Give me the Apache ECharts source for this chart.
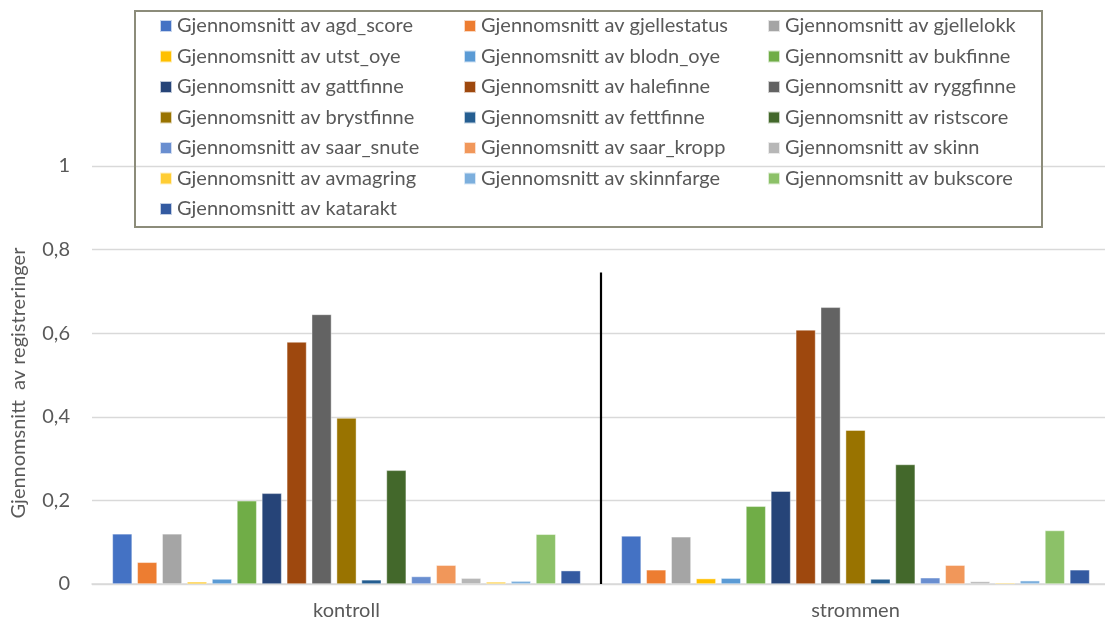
<!DOCTYPE html>
<html>
<head>
<meta charset="utf-8">
<script src="https://cdn.jsdelivr.net/npm/echarts@6/dist/echarts.min.js"></script>
<style>
html,body{margin:0;padding:0;background:#fff;}
#chart{width:1105px;height:620px;}
</style>
</head>
<body>
<div id="chart"></div>
<script>
const categories = ['kontroll', 'strommen'];
const variables = ['agd_score','gjellestatus','gjellelokk','utst_oye','blodn_oye','bukfinne','gattfinne','halefinne','ryggfinne','brystfinne','fettfinne','ristscore','saar_snute','saar_kropp','skinn','avmagring','skinnfarge','bukscore','katarakt'];
const kontrollValues = [0.12, 0.052, 0.12, 0.005, 0.012, 0.199, 0.217, 0.579, 0.645, 0.397, 0.01, 0.272, 0.018, 0.045, 0.014, 0.005, 0.007, 0.119, 0.032];
const strommenValues = [0.115, 0.034, 0.113, 0.013, 0.014, 0.186, 0.222, 0.608, 0.662, 0.368, 0.012, 0.286, 0.015, 0.045, 0.006, 0.003, 0.008, 0.128, 0.034];
const colors = ['#4472C4','#ED7D31','#A5A5A5','#FFC000','#5B9BD5','#70AD47','#264478','#9E480E','#636363','#997300','#255E91','#43682B','#698ED0','#F1975A','#B7B7B7','#FFCD33','#7CAFDD','#8CC168','#335AA1'];
const yTicks = [0, 0.2, 0.4, 0.6, 0.8, 1];
const dividerTop = 0.745;

const FONT = 'Lato';
const TXT = '#595959';
const seriesNames = variables.map(v => 'Gjennomsnitt av ' + v);

const series = seriesNames.map((name, i) => ({
  name: name,
  type: 'bar',
  data: [kontrollValues[i], strommenValues[i]],
  itemStyle: { color: colors[i], borderColor: 'rgba(255,255,255,0.7)', borderWidth: 0.6 },
  barGap: '26%',
  barCategoryGap: '8%',
  emphasis: { disabled: true }
}));

// legend columns (row-major order in 3 columns)
const cols = [[], [], []];
seriesNames.forEach((n, i) => cols[i % 3].push(n));
const colLeft = [159, 463, 767];
const legends = cols.map((d, c) => ({
  data: d,
  orient: 'vertical',
  left: colLeft[c],
  top: 16,
  padding: 0,
  itemWidth: 12,
  itemHeight: 12,
  itemGap: 10.5,
  icon: 'rect',
  selectedMode: false,
  textStyle: { fontFamily: FONT, fontSize: 20, color: TXT, lineHeight: 20 }
}));

const chart = echarts.init(document.getElementById('chart'), null, { renderer: 'canvas' });
chart.setOption({
  animation: false,
  backgroundColor: '#fff',
  color: colors,
  textStyle: { fontFamily: FONT },
  legend: legends,
  grid: { left: 92, top: 166, width: 1018, height: 418, containLabel: false, outerBoundsMode: 'none' },
  xAxis: {
    type: 'category',
    data: categories,
    axisLine: { lineStyle: { color: '#d9d9d9', width: 1.5 } },
    axisTick: { show: false },
    axisLabel: { color: TXT, fontFamily: FONT, fontSize: 20, margin: 17 },
    splitLine: { show: false }
  },
  yAxis: {
    type: 'value',
    min: yTicks[0],
    max: yTicks[yTicks.length - 1],
    interval: yTicks[1] - yTicks[0],
    name: 'Gjennomsnitt  av registreringer',
    nameLocation: 'middle',
    nameGap: 63,
    nameTextStyle: { color: TXT, fontFamily: FONT, fontSize: 20, padding: [0, 16, 0, 0] },
    axisLine: { show: false },
    axisTick: { show: false },
    axisLabel: {
      color: TXT, fontFamily: FONT, fontSize: 20, margin: 22,
      formatter: v => String(+v.toFixed(1)).replace('.', ',')
    },
    splitLine: { lineStyle: { color: '#d9d9d9', width: 1.3 } }
  },
  series: series
});

function addDecor() {
  const x0 = chart.convertToPixel({ xAxisIndex: 0 }, 0);
  const x1 = chart.convertToPixel({ xAxisIndex: 0 }, 1);
  const xm = (x0 + x1) / 2;
  const yb = chart.convertToPixel({ yAxisIndex: 0 }, 0);
  const yt = chart.convertToPixel({ yAxisIndex: 0 }, dividerTop);
  chart.setOption({
    graphic: [
      {
        id: 'legendFrame', type: 'rect', z: 10, silent: true,
        shape: { x: 135, y: 11, width: 907, height: 216 },
        style: { fill: 'none', stroke: '#8c8c7a', lineWidth: 2 }
      },
      {
        id: 'divider', type: 'line', z: 10, silent: true,
        shape: { x1: xm, y1: yt, x2: xm, y2: yb },
        style: { stroke: '#000', lineWidth: 2.2 }
      }
    ]
  });
}
addDecor();
</script>
</body>
</html>
